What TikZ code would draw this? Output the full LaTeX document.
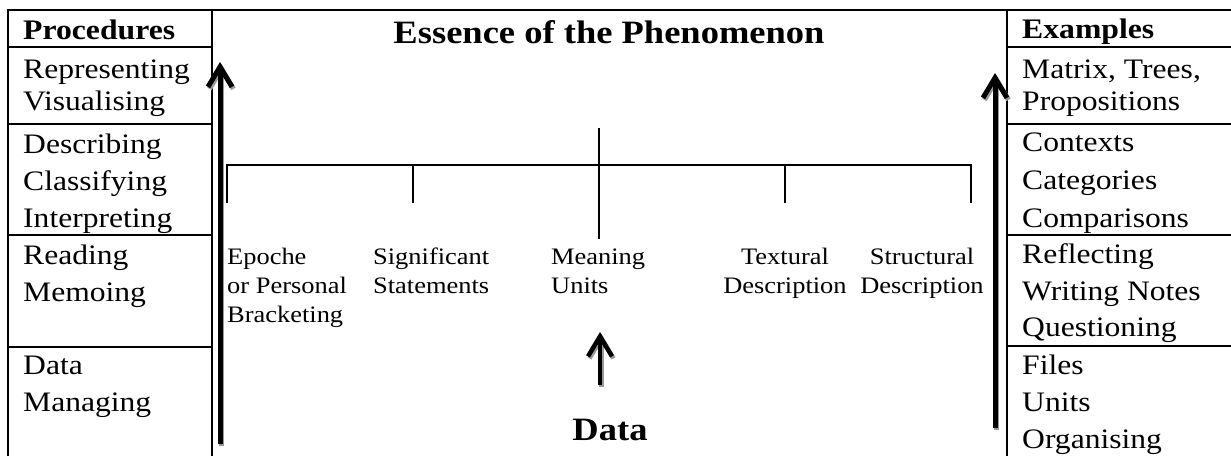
\documentclass[tikz,border=0pt]{standalone}
\usepackage{fontspec}
\setmainfont{Liberation Serif}[FakeStretch=1.12]
\usetikzlibrary{arrows.meta}
\begin{document}
\begin{tikzpicture}[x=1pt,y=-1pt,
  rule/.style={line width=2.5pt},
  brk/.style={line width=1.8pt},
  cell/.style={anchor=base west,inner sep=0pt,font=\fontsize{28.2}{30}\selectfont},
  head/.style={anchor=base west,inner sep=0pt,font=\fontsize{28.3}{30}\selectfont\bfseries},
  lab/.style={anchor=base west,inner sep=0pt,font=\fontsize{23.6}{26}\selectfont},
  labc/.style={anchor=base,inner sep=0pt,font=\fontsize{23.6}{26}\selectfont},
  big/.style={anchor=base,inner sep=0pt,font=\fontsize{32.6}{34}\selectfont\bfseries},
  uparrow/.style={line width=5pt,-{Straight Barb[length=20pt,width=24pt]}},
  shadowarrow/.style={uparrow,draw=black!40},
]
\useasboundingbox (0,0) rectangle (1231,456);

% table frame
\draw[rule] (8,456) -- (8,10) -- (1231,10);
\draw[rule] (212,10) -- (212,456);
\draw[rule] (1007,10) -- (1007,456);
\foreach \yy in {47,124,235,347} \draw[rule] (8,\yy) -- (212,\yy);
\foreach \yy in {47,124,235,346} \draw[rule] (1007,\yy) -- (1231,\yy);

% left column
\node[head] (proc) at (23,39) {Procedures};
\node[cell] (l1) at (23,78) {Representing};
\node[cell] (l2) at (23,110) {Visualising};
\node[cell] (l3) at (23,153) {Describing};
\node[cell] (l4) at (23,190) {Classifying};
\node[cell] (l5) at (23,227) {Interpreting};
\node[cell] (l6) at (23,264) {Reading};
\node[cell] (l7) at (23,301) {Memoing};
\node[cell] (l8) at (23,374) {Data};
\node[cell] (l9) at (23,411) {Managing};

% right column
\node[head] (exa) at (1022,38) {Examples};
\node[cell] (r1) at (1022,78) {Matrix, Trees,};
\node[cell] (r2) at (1022,110) {Propositions};
\node[cell] (r3) at (1022,151) {Contexts};
\node[cell] (r4) at (1022,189) {Categories};
\node[cell] (r5) at (1022,227) {Comparisons};
\node[cell] (r6) at (1022,263) {Reflecting};
\node[cell] (r7) at (1022,300) {Writing Notes};
\node[cell] (r8) at (1022,336) {Questioning};
\node[cell] (r9) at (1022,374) {Files};
\node[cell] (r10) at (1022,411) {Units};
\node[cell] (r11) at (1022,448) {Organising};

% title and data
\node[big] (title) at (609,43) {Essence of the Phenomenon};
\node[big] (data) at (610,440) {Data};

% bracket
\coordinate (top) at (599,128);
\coordinate (stem) at (599,239);
\coordinate (b1) at (227,203); \coordinate (h1) at (227,165);
\coordinate (b2) at (413,203); \coordinate (h2) at (413,165);
\coordinate (b3) at (785,203); \coordinate (h3) at (785,165);
\coordinate (b4) at (971,203); \coordinate (h4) at (971,165);
\draw[brk] (top) -- (stem);
\draw[brk] (b1) -- (h1) -- (h4) -- (b4);
\draw[brk] (h2) -- (b2);
\draw[brk] (h3) -- (b3);

% middle labels
\node[lab] (m1a) at (227,264) {Epoche};
\node[lab] (m1b) at (227,293) {or Personal};
\node[lab] (m1c) at (227,322) {Bracketing};
\node[lab] (m2a) at (373,264) {Significant};
\node[lab] (m2b) at (373,293) {Statements};
\node[lab] (m3a) at (551,264) {Meaning};
\node[lab] (m3b) at (551,293) {Units};
\node[labc] (m4a) at (785,264) {Textural};
\node[labc] (m4b) at (785,293) {Description};
\node[labc] (m5a) at (922,264) {Structural};
\node[labc] (m5b) at (922,293) {Description};

% arrows
\coordinate (la0) at (220,444); \coordinate (la1) at (220,62);
\coordinate (ra0) at (995,428); \coordinate (ra1) at (995,73);
\coordinate (ma0) at (600,385); \coordinate (ma1) at (600,332);
\draw[shadowarrow] ([shift={(1.5,2)}]la0) -- ([shift={(1.5,2)}]la1);
\draw[uparrow] (la0) -- (la1);
\draw[shadowarrow] ([shift={(1.5,2)}]ra0) -- ([shift={(1.5,2)}]ra1);
\draw[uparrow] (ra0) -- (ra1);
\draw[shadowarrow,line width=4.5pt] ([shift={(1.5,2)}]ma0) -- ([shift={(1.5,2)}]ma1);
\draw[uparrow,line width=4.5pt] (ma0) -- (ma1);
\end{tikzpicture}
\end{document}
